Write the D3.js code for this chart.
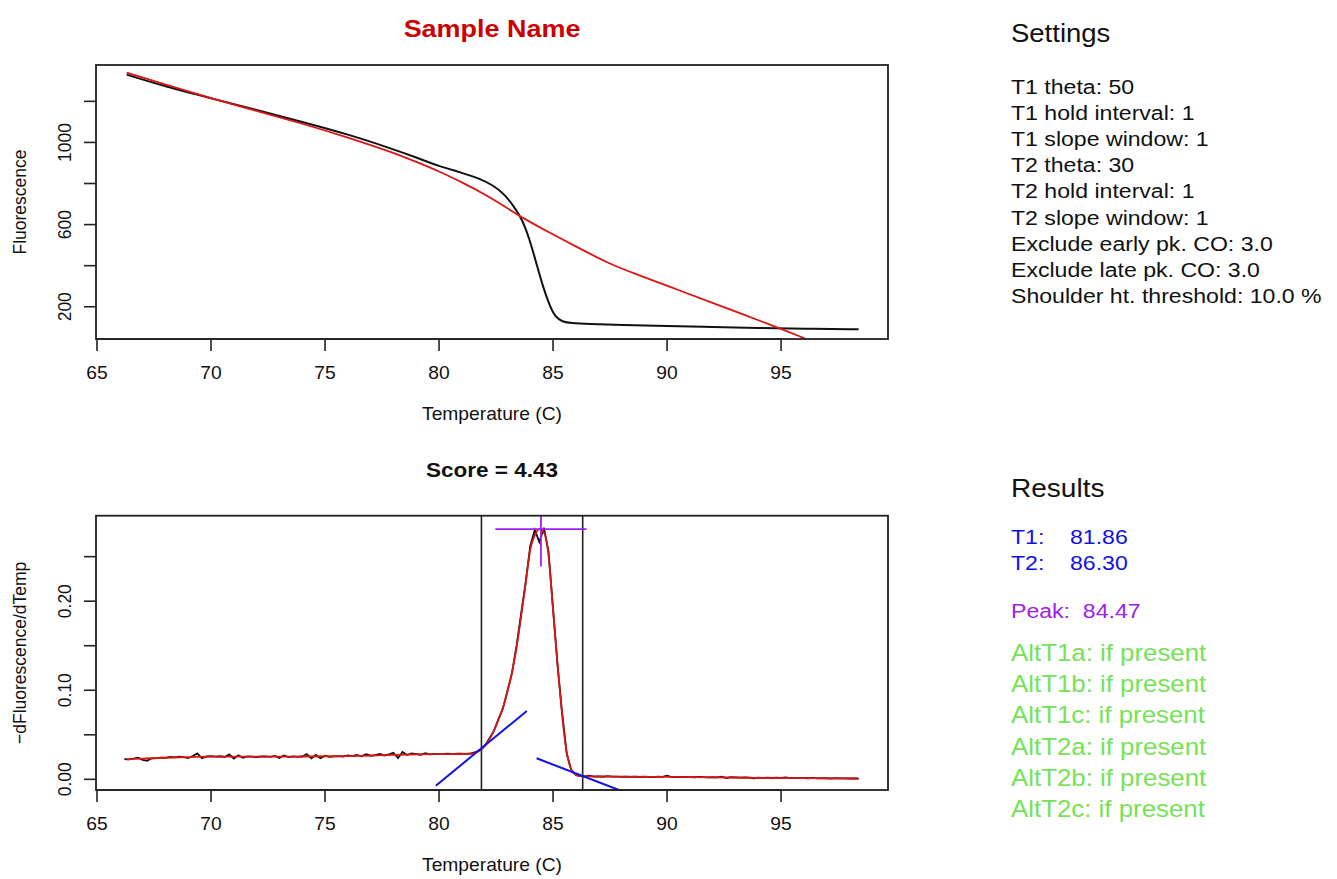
<!DOCTYPE html>
<html>
<head>
<meta charset="utf-8">
<script src="https://cdn.jsdelivr.net/npm/d3@7/dist/d3.min.js"></script>
<style>
  html, body { margin: 0; padding: 0; background: #fff; }
  svg text { font-family: "Liberation Sans", Arial, Helvetica, sans-serif; white-space: pre; }
</style>
</head>
<body>
<svg id="chart"></svg>
<script>
// ---- melt curve (top panel) ----
const rawTemp = [66.3, 68, 70, 72, 74, 76, 78, 79, 80, 81, 81.8, 82.4, 82.9, 83.3, 83.65, 83.95,
  84.25, 84.55, 84.85, 85.1, 85.4, 85.8, 86.5, 88, 90, 92, 94, 96, 98.4];
const rawFluo = [1330, 1272, 1215, 1158, 1100, 1040, 967, 927, 884, 853, 823, 790, 745, 685, 625, 535,
  420, 300, 205, 150, 127, 120, 116, 112, 106, 101, 97, 93, 90];

const fitTemp = [66.3, 68, 70, 72, 74, 76, 78, 79, 80, 81, 82, 83, 83.7, 84.5, 85.2, 86, 87.4, 88.5,
  90.3, 92, 94.7, 96.1];
const fitFluo = [1340, 1282, 1215, 1153, 1092, 1025, 950, 905, 860, 806, 748, 680, 630, 582, 540, 494,
  412, 364, 290, 218, 106, 43];

// ---- derivative (bottom panel) ----
// raw derivative sampled every 0.2 C starting at 66.2 C
const derivStart = 66.2;
const derivStep = 0.2;
const derivRaw = [
  0.0226, 0.0224, 0.0231, 0.0244, 0.0219, 0.0208, 0.0236, 0.0239, 0.0243, 0.0241,
  0.0251, 0.0246, 0.0254, 0.0249, 0.0238, 0.0262, 0.0291, 0.0236, 0.0257, 0.0260,
  0.0254, 0.0259, 0.0251, 0.0279, 0.0232, 0.0270, 0.0241, 0.0258, 0.0255, 0.0249,
  0.0256, 0.0257, 0.0252, 0.0263, 0.0240, 0.0268, 0.0250, 0.0257, 0.0253, 0.0256,
  0.0283, 0.0236, 0.0274, 0.0237, 0.0266, 0.0252, 0.0257, 0.0261, 0.0255, 0.0268,
  0.0261, 0.0274, 0.0259, 0.0282, 0.0265, 0.0271, 0.0286, 0.0268, 0.0279, 0.0298,
  0.0238, 0.0306, 0.0272, 0.0291, 0.0284, 0.0276, 0.0293, 0.0281, 0.0286, 0.0283,
  0.0284, 0.0289, 0.0283, 0.0287, 0.0288, 0.0286, 0.0290, 0.0304, 0.0330, 0.0372,
  0.0455, 0.0540, 0.0672, 0.0796, 0.0990, 0.1195, 0.1500, 0.1860, 0.2215, 0.2620,
  0.2800, 0.2665, 0.2825, 0.2560, 0.1920, 0.1270, 0.0745, 0.0290, 0.0105, 0.0048,
  0.0037, 0.0034, 0.0040, 0.0031, 0.0033, 0.0029, 0.0036, 0.0030, 0.0031, 0.0028,
  0.0030, 0.0027, 0.0031, 0.0026, 0.0029, 0.0028, 0.0025, 0.0029, 0.0027, 0.0040,
  0.0026, 0.0027, 0.0024, 0.0028, 0.0025, 0.0023, 0.0027, 0.0024, 0.0022, 0.0025,
  0.0021, 0.0030, 0.0013, 0.0024, 0.0021, 0.0019, 0.0022, 0.0018, 0.0012, 0.0020,
  0.0017, 0.0019, 0.0015, 0.0018, 0.0016, 0.0021, 0.0014, 0.0016, 0.0013, 0.0015,
  0.0012, 0.0016, 0.0011, 0.0013, 0.0012, 0.0009, 0.0014, 0.0010, 0.0011, 0.0009,
  0.0010, 0.0008
];

const smoothTemp = [66.3, 67, 68, 69, 70, 72, 74, 76, 77, 78, 79, 80, 81, 81.5, 81.8,
  82.0, 82.2, 82.4, 82.6, 82.8, 83.0, 83.2, 83.4, 83.6, 83.8, 84.0, 84.2, 84.4, 84.6, 84.8,
  85.0, 85.2, 85.4, 85.6, 85.8, 86.0, 86.2, 86.5, 88, 90, 92, 94, 96, 98.4];
const smoothDeriv = [0.0225, 0.0232, 0.0242, 0.0250, 0.0254, 0.0255, 0.0256, 0.0260, 0.0266, 0.0274,
  0.0280, 0.0283, 0.0286, 0.0292, 0.0325, 0.0375, 0.0448, 0.0545, 0.0665, 0.0800,
  0.0985, 0.1200, 0.1480, 0.1830, 0.2200, 0.2580, 0.2740, 0.2810, 0.2770, 0.2520,
  0.1900, 0.1290, 0.0720, 0.0300, 0.0110, 0.0050, 0.0036, 0.0033, 0.0030, 0.0027,
  0.0022, 0.0017, 0.0013, 0.0009];

// results
const t1 = 81.86;
const t2 = 86.30;
const peakTemp = 84.47;
const peakHeight = 0.281;
const peakSpanX = [82.47, 86.47];
const peakSpanY = [0.239, 0.323];
const tangent1 = [[79.86, -0.0072], [83.85, 0.0767]];
const tangent2 = [[84.28, 0.0236], [87.89, -0.012]];
const score = '4.43';

const xTicks = [65, 70, 75, 80, 85, 90, 95];
const fluoTicks = [200, 400, 600, 800, 1000, 1200];
const fluoLabels = [200, 600, 1000];
const derivTicks = [0, 0.05, 0.10, 0.15, 0.20, 0.25];
const derivLabels = [0, 0.10, 0.20];

const settingsLines = [
  'T1 theta: 50',
  'T1 hold interval: 1',
  'T1 slope window: 1',
  'T2 theta: 30',
  'T2 hold interval: 1',
  'T2 slope window: 1',
  'Exclude early pk. CO: 3.0',
  'Exclude late pk. CO: 3.0',
  'Shoulder ht. threshold: 10.0 %'
];
const altLines = ['AltT1a', 'AltT1b', 'AltT1c', 'AltT2a', 'AltT2b', 'AltT2c'];

// ---- drawing ----
const W = 1337, H = 879;
const SX = 1.1; // picture is slightly wider than tall
const RED = '#dc1414', BLUE = '#1010e6', PURPLE = '#a020f0', GREEN = '#76e256';

const svg = d3.select('#chart').attr('width', W).attr('height', H);

function label(g, x, y, str, opts = {}) {
  const t = g.append('text')
    .attr('transform', `translate(${x},${y}) scale(${SX},1)` + (opts.rotate ? ' rotate(-90)' : ''))
    .attr('font-size', opts.size || 17.5)
    .attr('font-weight', opts.bold ? 'bold' : null)
    .attr('fill', opts.color || '#111')
    .attr('text-anchor', opts.anchor || 'start')
    .text(str);
  if (opts.dy) t.attr('dy', opts.dy);
  return t;
}

const xScale = d3.scaleLinear().domain([64.956, 99.69]).range([96, 888]);

function panel(top, bottom, yDomain, id) {
  const y = d3.scaleLinear().domain(yDomain).range([bottom, top]);
  svg.append('clipPath').attr('id', id)
    .append('rect').attr('x', 96).attr('y', top).attr('width', 792).attr('height', bottom - top);
  const g = svg.append('g');
  const plot = g.append('g').attr('clip-path', `url(#${id})`);
  return {y, g, plot, top, bottom};
}

function axes(p, yTicks, yLabels, yFmt, yTitle) {
  const {g, y, top, bottom} = p;
  // x axis
  g.append('line').attr('x1', xScale(xTicks[0])).attr('x2', xScale(xTicks[xTicks.length - 1]))
    .attr('y1', bottom).attr('y2', bottom).attr('stroke', '#222').attr('stroke-width', 1.6);
  xTicks.forEach(t => {
    g.append('line').attr('x1', xScale(t)).attr('x2', xScale(t))
      .attr('y1', bottom).attr('y2', bottom + 12).attr('stroke', '#222').attr('stroke-width', 1.6);
    label(g, xScale(t), bottom + 40, String(t), {anchor: 'middle'});
  });
  label(g, 492, bottom + 81, 'Temperature (C)', {anchor: 'middle'});
  // y axis
  yTicks.forEach(t => {
    g.append('line').attr('x1', 96).attr('x2', 84)
      .attr('y1', y(t)).attr('y2', y(t)).attr('stroke', '#222').attr('stroke-width', 1.6);
  });
  yLabels.forEach(t => {
    label(g, 64, y(t), yFmt(t), {anchor: 'middle', rotate: true, dy: '0.35em'});
  });
  label(g, 19, (top + bottom) / 2, yTitle, {anchor: 'middle', rotate: true, dy: '0.35em'});
  // box
  g.append('rect').attr('x', 96).attr('y', top).attr('width', 792).attr('height', bottom - top)
    .attr('fill', 'none').attr('stroke', '#222').attr('stroke-width', 1.8);
}

// top panel
const pTop = panel(65, 339, [43, 1377], 'clipTop');
const lineTop = d3.line().x(d => xScale(d[0])).y(d => pTop.y(d[1])).curve(d3.curveBasis);
pTop.plot.append('path').datum(d3.zip(rawTemp, rawFluo)).attr('d', lineTop)
  .attr('fill', 'none').attr('stroke', '#111').attr('stroke-width', 2);
pTop.plot.append('path').datum(d3.zip(fitTemp, fitFluo)).attr('d', lineTop)
  .attr('fill', 'none').attr('stroke', RED).attr('stroke-width', 1.8);
axes(pTop, fluoTicks, fluoLabels, d3.format('d'), 'Fluorescence');
label(svg, 492, 37, 'Sample Name', {anchor: 'middle', size: 24.5, bold: true, color: '#cc0000'});

// bottom panel
const pBot = panel(515.7, 790, [-0.012, 0.296], 'clipBot');
const lineBot = d3.line().x(d => xScale(d[0])).y(d => pBot.y(d[1]));
const derivPts = derivRaw.map((v, i) => [derivStart + i * derivStep, v]);
pBot.plot.append('path').datum(derivPts).attr('d', lineBot.curve(d3.curveLinear))
  .attr('fill', 'none').attr('stroke', '#111').attr('stroke-width', 1.8);
pBot.plot.append('path').datum(d3.zip(smoothTemp, smoothDeriv))
  .attr('d', lineBot.curve(d3.curveMonotoneX))
  .attr('fill', 'none').attr('stroke', RED).attr('stroke-width', 1.8);

[t1, t2].forEach(t => {
  pBot.plot.append('line').attr('x1', xScale(t)).attr('x2', xScale(t))
    .attr('y1', pBot.top).attr('y2', pBot.bottom).attr('stroke', '#222').attr('stroke-width', 1.6);
});
[tangent1, tangent2].forEach(seg => {
  pBot.plot.append('line')
    .attr('x1', xScale(seg[0][0])).attr('y1', pBot.y(seg[0][1]))
    .attr('x2', xScale(seg[1][0])).attr('y2', pBot.y(seg[1][1]))
    .attr('stroke', BLUE).attr('stroke-width', 2);
});
pBot.plot.append('line')
  .attr('x1', xScale(peakSpanX[0])).attr('x2', xScale(peakSpanX[1]))
  .attr('y1', pBot.y(peakHeight)).attr('y2', pBot.y(peakHeight))
  .attr('stroke', PURPLE).attr('stroke-width', 1.8);
pBot.plot.append('line')
  .attr('x1', xScale(peakTemp)).attr('x2', xScale(peakTemp))
  .attr('y1', pBot.y(peakSpanY[0])).attr('y2', pBot.y(peakSpanY[1]))
  .attr('stroke', PURPLE).attr('stroke-width', 1.8);
axes(pBot, derivTicks, derivLabels, d3.format('.2f'), '\u2212dFluorescence/dTemp');
label(svg, 492, 477, `Score = ${score}`, {anchor: 'middle', size: 20.5, bold: true});

// side text
const side = svg.append('g');
label(side, 1011, 42, 'Settings', {size: 25});
settingsLines.forEach((s, i) => label(side, 1011, 94 + i * 26.1, s, {size: 21}));

label(side, 1011, 497, 'Results', {size: 25.5});
label(side, 1011, 544, `T1:    ${t1.toFixed(2)}`, {size: 21, color: BLUE});
label(side, 1011, 570, `T2:    ${t2.toFixed(2)}`, {size: 21, color: BLUE});
label(side, 1011, 618, `Peak:  ${peakTemp.toFixed(2)}`, {size: 21, color: PURPLE});
altLines.forEach((s, i) => label(side, 1011, 661 + i * 31.2, `${s}: if present`, {size: 23.5, color: GREEN}));
</script>
</body>
</html>
